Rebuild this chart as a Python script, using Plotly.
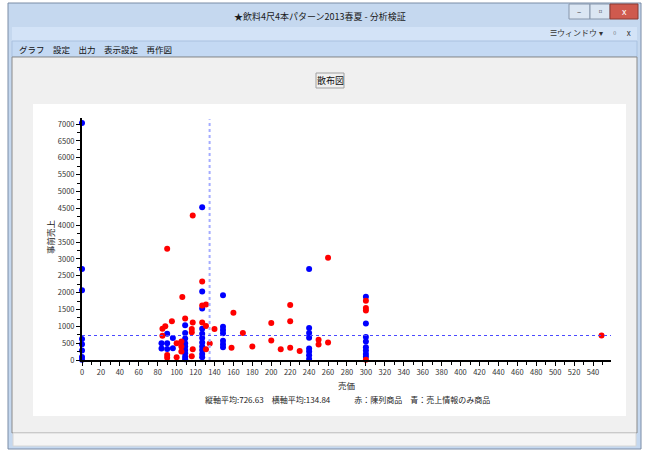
import plotly.graph_objects as go

# ---------------- data ----------------
blue_x = [0, 0, 0, 0, 0, 0, 0, 0,
          84, 84,
          90, 90, 90,
          96, 96,
          109, 109, 109, 109, 109, 109, 109, 109, 109,
          127, 127, 127, 127, 127, 127, 127, 127, 127, 127, 127,
          149, 149, 149, 149, 149, 149, 149,
          240, 240, 240, 240, 240, 240, 240, 240,
          300, 300, 300, 300, 300, 300, 300, 300]
blue_y = [7030, 2700, 2070, 620, 470, 280, 90, 10,
          500, 340,
          780, 500, 330,
          650, 350,
          1030, 800, 640, 500, 400, 300, 200, 100, 20,
          4530, 2030, 1530, 930, 780, 650, 520, 400, 300, 180, 80,
          1920, 990, 890, 790, 570, 470, 380,
          2700, 950, 800, 660, 340, 250, 140, 30,
          1880, 1080, 680, 550, 380, 280, 180, 100]

red_x = [90, 117, 127, 106, 127, 131, 160, 95, 109, 117, 127, 85, 88, 85,
         116, 116, 131, 140, 170, 200, 220, 220, 260, 200, 158, 180, 210,
         220, 230, 250, 250, 260, 135, 100, 105, 105, 105, 117, 116, 100,
         90, 90, 131, 300, 300, 300, 300, 549]
red_y = [3300, 4290, 2330, 1870, 1620, 1650, 1400, 1150, 1230, 1110, 1110, 930, 1000, 720,
         920, 820, 1010, 920, 800, 1100, 1150, 1630, 3030, 580, 360, 400, 320,
         360, 270, 600, 460, 520, 490, 500, 550, 400, 250, 320, 110, 80,
         150, 70, 320, 1760, 1540, 1470, 10, 730]

mean_y = 726.63
mean_x = 134.84
x_range = [0, 559]
y_range = [0, 7180]

window_title = "★飲料4尺4本パターン2013春夏 - 分析検証"
menu_items = "グラフ　設定　出力　表示設定　再作図"
chart_title = "散布図"
x_title = "売価"
y_title = "事前売上"
footer = "縦軸平均:726.63　横軸平均:134.84　　　赤：陳列商品　青：売上情報のみ商品"

# ---------------- figure ----------------
W, H = 646, 455
L, R, T, B = 82, 35, 118, 95
PW, PH = W - L - R, H - T - B


def PX(x):
    return (x - L) / PW


def PY(y):
    return (H - B - y) / PH


FONT = "Noto Sans CJK JP"

fig = go.Figure()
fig.add_trace(go.Scatter(x=blue_x, y=blue_y, mode="markers", cliponaxis=False,
                         marker=dict(color="#0000ff", size=6, line=dict(width=0)),
                         showlegend=False))
fig.add_trace(go.Scatter(x=red_x, y=red_y, mode="markers", cliponaxis=False,
                         marker=dict(color="#ff0000", size=6, line=dict(width=0)),
                         showlegend=False))

shapes = []


def rect(x0, y0, x1, y1, fill, line="rgba(0,0,0,0)", lw=1):
    shapes.append(dict(type="rect", xref="paper", yref="paper",
                       x0=PX(x0), x1=PX(x1), y0=PY(y1), y1=PY(y0),
                       fillcolor=fill, line=dict(color=line, width=lw), layer="below"))


# window chrome
rect(8, 3, 641, 449, "#c5d8ef", "#7a8ca6")
rect(12, 27, 637, 41, "#d3e3f7")
rect(12, 41, 637, 57, "#c4d9f3", "#a9c1e0")
rect(12, 57, 637, 433, "#f0f0f0", "#8a8a8a")
rect(13, 433, 636, 446, "#f5f5f5", "#d6d6d6")
rect(33, 104, 626, 416, "#ffffff")
rect(316, 73, 344, 88, "#f0f0f0", "#a0a0a0")
# title bar buttons
rect(569, 4, 590, 19, "#dbe6f3", "#8796ab")
rect(590, 4, 610, 19, "#dbe6f3", "#8796ab")
rect(610, 4, 638, 19, "#cf5a4e", "#8a3a33")

# mean lines
shapes.append(dict(type="line", xref="x", yref="y", x0=mean_x, x1=mean_x,
                   y0=0, y1=y_range[1] - 40,
                   line=dict(color="#a4acff", width=2, dash="dot")))
shapes.append(dict(type="line", xref="x", yref="y", x0=0, x1=x_range[1],
                   y0=mean_y, y1=mean_y,
                   line=dict(color="#4a4aff", width=1, dash="dot")))

ann = []


def text(x, y, s, size=9, color="#222222", anchor="center", angle=0):
    ann.append(dict(xref="paper", yref="paper", x=PX(x), y=PY(y), text=s,
                    showarrow=False, xanchor=anchor, yanchor="middle",
                    textangle=angle, font=dict(family=FONT, size=size, color=color)))


text(320, 16, window_title, 9, "#1a1a1a")
text(624, 11, "x", 9, "#ffffff")
text(579, 11, "–", 8, "#333333")
text(600, 11, "▫", 9, "#333333")
text(590, 33, "☰ウィンドウ ▾　▫　x", 8, "#333333")
text(17, 49, menu_items, 8.5, "#111111", anchor="left")
text(330, 80, chart_title, 9, "#111111")
text(347, 385, x_title, 8.5, "#222222")
text(50, 237, y_title, 8.5, "#222222", angle=-90)
text(347, 399, footer, 8, "#222222")

fig.update_layout(
    width=W, height=H,
    margin=dict(l=L, r=R, t=T, b=B, autoexpand=False),
    paper_bgcolor="#ffffff",
    plot_bgcolor="#ffffff",
    shapes=shapes,
    annotations=ann,
    showlegend=False,
    font=dict(family=FONT, size=8, color="#333333"),
)
fig.update_xaxes(range=x_range, tickmode="linear", tick0=0, dtick=20,
                 ticks="outside", ticklen=4, tickcolor="#000", tickwidth=1,
                 minor=dict(dtick=10, ticks="outside", ticklen=3, tickcolor="#000"),
                 showgrid=False, zeroline=False, showline=True, linecolor="#000",
                 linewidth=2, tickfont=dict(size=7.5, color="#333"), fixedrange=True)
fig.update_yaxes(range=y_range, tickmode="linear", tick0=0, dtick=500,
                 ticks="outside", ticklen=4, tickcolor="#000", tickwidth=1,
                 minor=dict(dtick=250, ticks="outside", ticklen=3, tickcolor="#000"),
                 showgrid=False, zeroline=False, showline=True, linecolor="#000",
                 linewidth=2, tickfont=dict(size=7.5, color="#333"), tickformat="d",
                 fixedrange=True)

fig.write_html("out.html", config=dict(displayModeBar=False),
               post_script="document.body.style.margin='0';document.body.style.overflow='hidden';")
